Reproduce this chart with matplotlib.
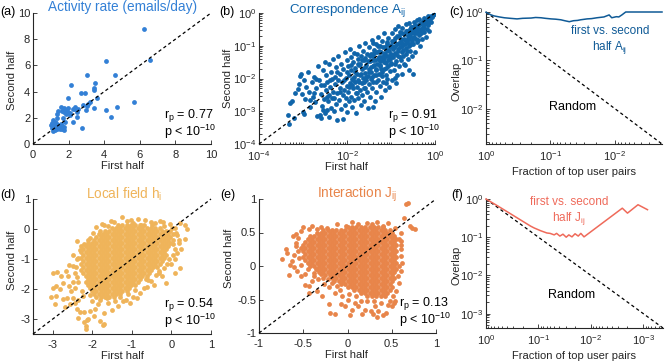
import numpy as np
import matplotlib

matplotlib.use("Agg")
import matplotlib.pyplot as plt
from matplotlib.ticker import LogLocator, NullFormatter

plt.rcParams["font.family"] = ["Liberation Sans", "DejaVu Sans"]
plt.rcParams["mathtext.default"] = "regular"
plt.rcParams["axes.unicode_minus"] = False

# ---- data ----
# (a) activity rate, emails/day
a_first = [6.22, 6.58, 4.11, 4.58, 3.03, 2.13, 3.48, 3.44, 3.40, 2.93, 2.69, 1.96, 3.61, 3.21, 5.65,
           3.09, 4.73, 3.40, 4.11, 4.36, 2.77, 2.52, 2.36, 2.24, 2.47, 2.45, 2.22, 2.80, 3.03, 3.00,
           1.94, 1.72, 1.55, 1.38, 1.35, 1.83, 1.94, 1.76, 1.65, 2.10, 2.06, 1.68, 1.78, 1.57, 1.46,
           1.12, 1.09, 1.16, 1.24, 1.31, 1.42, 1.03, 1.07, 1.18, 1.27, 1.35, 1.50, 1.61, 1.76, 1.24,
           1.10, 1.61, 1.72, 2.34, 1.87, 1.37]
a_second = [8.75, 6.45, 6.30, 5.23, 5.28, 4.49, 4.67, 4.31, 4.10, 3.93, 3.88, 3.50, 3.50, 3.24, 3.21,
            3.04, 2.81, 2.73, 2.58, 2.09, 1.22, 2.65, 2.68, 2.65, 2.45, 2.09, 1.71, 2.98, 2.93, 2.60,
            2.78, 2.78, 2.81, 2.53, 2.30, 2.60, 2.47, 2.42, 2.53, 2.37, 2.22, 1.96, 1.68, 1.56, 1.35,
            1.84, 1.58, 1.45, 1.66, 1.58, 1.48, 1.45, 1.22, 1.28, 1.33, 1.12, 1.12, 1.12, 1.10, 1.07,
            1.02, 1.38, 1.28, 2.86, 2.27, 1.96]

# (b) correspondence A_ij, stored as (log10 first half, log10 second half)
b_log_pairs = [
    (-3.32, -3.38), (-3.21, -3.20), (-3.34, -3.11), (-3.29, -2.76), (-3.25, -2.70), (-3.05, -1.86),
    (-3.07, -1.93), (-3.12, -2.33), (-3.18, -2.43), (-3.09, -2.16), (-3.00, -3.01), (-2.98, -3.07),
    (-2.95, -2.62), (-3.02, -2.48), (-2.93, -2.25), (-2.97, -2.05),
    (-2.89, -1.79), (-2.86, -2.40), (-2.84, -2.86), (-2.80, -2.12), (-2.78, -2.55), (-2.75, -1.95),
    (-2.72, -2.72), (-2.70, -2.30), (-2.68, -3.15), (-2.66, -1.62), (-2.64, -2.05), (-2.62, -3.10),
    (-2.60, -2.48), (-2.58, -3.22), (-2.57, -2.85), (-2.55, -1.75), (-2.53, -2.20), (-2.52, -2.62),
    (-2.51, -3.05), (-2.50, -1.50),
    (-2.48, -2.35), (-2.47, -1.90), (-2.46, -2.95), (-2.45, -2.10), (-2.44, -2.70), (-2.42, -1.55),
    (-2.41, -2.50), (-2.40, -3.18), (-2.38, -2.25), (-2.37, -1.80), (-2.36, -2.90), (-2.35, -2.02),
    (-2.33, -2.60), (-2.32, -1.40), (-2.31, -2.40), (-2.30, -3.00), (-2.28, -1.95), (-2.27, -2.18),
    (-2.26, -2.78), (-2.25, -1.65), (-2.23, -2.45), (-2.22, -3.28), (-2.21, -2.05), (-2.20, -1.30),
    (-2.18, -2.65), (-2.17, -2.30), (-2.16, -1.85), (-2.14, -2.92), (-2.13, -1.55), (-2.12, -2.12),
    (-2.10, -2.50), (-2.09, -3.25), (-2.08, -1.72), (-2.07, -2.35), (-2.05, -1.20), (-2.04, -2.80),
    (-2.03, -1.98), (-2.02, -2.60), (-2.01, -1.45), (-2.00, -2.22),
    (-1.99, -3.02), (-1.98, -1.62), (-1.97, -2.42), (-1.96, -1.88), (-1.95, -2.70), (-1.94, -1.10),
    (-1.93, -2.15), (-1.92, -1.35), (-1.91, -2.55), (-1.90, -1.75), (-1.89, -2.00), (-1.88, -2.88),
    (-1.87, -1.50), (-1.86, -2.30), (-1.85, -1.95), (-1.84, -2.65), (-1.83, -1.22), (-1.82, -2.10),
    (-1.81, -1.68), (-1.80, -2.45), (-1.79, -3.05), (-1.78, -1.85), (-1.77, -2.25), (-1.76, -1.40),
    (-1.75, -2.05), (-1.74, -2.60), (-1.73, -1.60), (-1.72, -1.00), (-1.71, -2.35), (-1.70, -1.90),
    (-1.69, -2.80), (-1.68, -1.30), (-1.67, -2.15), (-1.66, -1.72), (-1.65, -2.50), (-1.64, -1.15),
    (-1.63, -1.98), (-1.62, -2.70), (-1.61, -1.45), (-1.60, -2.28), (-1.59, -1.82), (-1.58, -0.92),
    (-1.57, -2.05), (-1.56, -1.58), (-1.55, -2.42), (-1.54, -1.25), (-1.53, -1.92), (-1.52, -2.90),
    (-1.51, -1.70), (-1.50, -2.18), (-1.70, -1.55), (-1.88, -2.20), (-1.62, -2.10), (-1.78, -1.25),
    (-1.58, -1.38),
    (-1.49, -1.05), (-1.48, -2.55), (-1.47, -1.48), (-1.46, -2.00), (-1.45, -1.80), (-1.44, -0.82),
    (-1.43, -2.30), (-1.42, -1.30), (-1.41, -1.62), (-1.40, -2.12), (-1.39, -1.12), (-1.38, -1.90),
    (-1.37, -2.70), (-1.36, -1.42), (-1.35, -0.95), (-1.34, -1.75), (-1.33, -2.40), (-1.32, -1.20),
    (-1.31, -1.55), (-1.30, -2.05), (-1.29, -0.72), (-1.28, -1.85), (-1.27, -1.35), (-1.26, -2.22),
    (-1.25, -1.00), (-1.24, -1.62), (-1.23, -2.55), (-1.22, -1.18), (-1.21, -1.92), (-1.20, -0.85),
    (-1.19, -1.45), (-1.18, -2.10), (-1.17, -1.28), (-1.16, -1.70), (-1.15, -0.62), (-1.14, -2.35),
    (-1.13, -1.05), (-1.12, -1.52), (-1.11, -1.88), (-1.10, -0.90), (-1.09, -1.30), (-1.08, -2.00),
    (-1.07, -1.62), (-1.06, -0.75), (-1.05, -1.15), (-1.04, -2.25), (-1.03, -1.40), (-1.02, -1.78),
    (-1.01, -0.98), (-1.00, -1.25), (-1.45, -1.25), (-1.38, -1.58), (-1.30, -1.02), (-1.22, -1.72),
    (-1.15, -1.38), (-1.08, -1.12), (-1.40, -0.92), (-1.25, -1.48), (-1.12, -2.15), (-1.35, -2.10),
    (-1.42, -2.88),
    (-0.99, -1.55), (-0.98, -0.62), (-0.97, -2.05), (-0.96, -1.10), (-0.95, -1.35), (-0.94, -0.85),
    (-0.93, -1.75), (-0.92, -0.48), (-0.91, -1.22), (-0.90, -1.02), (-0.89, -2.15), (-0.88, -1.48),
    (-0.87, -0.70), (-0.86, -1.90), (-0.85, -1.15), (-0.84, -0.40), (-0.83, -1.30), (-0.82, -0.92),
    (-0.81, -1.62), (-0.80, -0.58), (-0.79, -1.05), (-0.78, -1.42), (-0.77, -0.78), (-0.76, -1.85),
    (-0.75, -1.18), (-0.74, -0.45), (-0.73, -0.95), (-0.72, -1.30), (-0.71, -0.65), (-0.70, -1.55),
    (-0.69, -1.58), (-0.68, -0.82), (-0.67, -1.08), (-0.66, -0.35), (-0.65, -1.25), (-0.64, -0.55),
    (-0.63, -0.90), (-0.62, -1.40), (-0.61, -0.70), (-0.60, -1.02), (-0.59, -0.30), (-0.58, -0.80),
    (-0.57, -1.15), (-0.56, -0.50), (-0.55, -0.95), (-0.54, -0.62), (-0.53, -1.30), (-0.52, -0.42),
    (-0.51, -0.75), (-0.50, -1.85),
    (-0.49, -0.95), (-0.48, -0.28), (-0.47, -0.60), (-0.46, -1.18), (-0.45, -0.45), (-0.44, -0.78),
    (-0.42, -0.22), (-0.41, -0.55), (-0.40, -0.88), (-0.39, -0.38), (-0.37, -0.68), (-0.36, -0.18),
    (-0.35, -1.00), (-0.33, -0.48), (-0.32, -0.30), (-0.31, -0.62), (-0.30, -0.80), (-0.28, -0.25),
    (-0.27, -0.42), (-0.25, -0.58), (-0.24, -0.15), (-0.22, -0.35), (-0.21, -0.72), (-0.19, -0.20),
    (-0.18, -0.48), (-0.16, -0.10), (-0.15, -0.30), (-0.13, -0.55), (-0.12, -0.18), (-0.10, -0.08),
    (-0.08, -0.28), (-0.06, -0.12), (-0.04, -0.05), (-0.02, -0.02), (-0.60, -1.75), (-0.92, -1.98),
    # denser middle of the band
    (-2.45, -2.55), (-2.38, -2.05), (-2.30, -2.60), (-2.22, -1.80), (-2.15, -2.40), (-2.06, -2.05),
    (-2.00, -1.80), (-1.95, -2.25), (-1.90, -1.60), (-1.86, -2.05), (-1.82, -1.80), (-1.78, -2.45),
    (-1.75, -1.55), (-1.72, -2.10), (-1.68, -1.85), (-1.65, -1.42), (-1.62, -2.30), (-1.60, -1.65),
    (-1.56, -1.95), (-1.53, -1.48), (-1.50, -1.80), (-1.48, -1.30), (-1.46, -1.65), (-1.43, -1.95),
    (-1.40, -1.45), (-1.38, -1.22), (-1.35, -1.70), (-1.33, -1.90), (-1.30, -1.40), (-1.28, -1.15),
    (-1.26, -1.60), (-1.23, -1.35), (-1.20, -1.80), (-1.18, -1.05), (-1.16, -1.50), (-1.14, -1.22),
    (-1.11, -1.68), (-1.09, -0.95), (-1.07, -1.45), (-1.05, -1.30), (-1.03, -1.05), (-1.00, -1.52),
    (-0.98, -0.85), (-0.96, -1.28), (-0.94, -1.05), (-0.92, -1.55), (-0.90, -0.75), (-0.88, -1.25),
    (-0.86, -0.95), (-0.84, -1.10), (-0.82, -0.70), (-0.80, -1.35), (-0.78, -0.88), (-0.76, -1.02),
    (-0.74, -0.62), (-0.72, -1.12), (-0.70, -0.78), (-0.68, -0.95), (-0.66, -0.55), (-0.64, -1.15),
    (-0.62, -0.78), (-0.60, -0.62), (-0.58, -0.95), (-0.56, -0.70), (-0.54, -0.42), (-0.52, -0.85),
    (-0.50, -0.55), (-0.48, -0.72), (-0.46, -0.38), (-0.43, -0.62), (-0.40, -0.45), (-0.38, -0.82),
    (-0.35, -0.35), (-0.33, -0.60), (-0.30, -0.50), (-0.27, -0.32), (-0.24, -0.45), (-0.20, -0.28),
    (-0.17, -0.38), (-0.14, -0.22), (-2.60, -2.20), (-2.70, -2.00), (-2.75, -2.45), (-2.85, -2.65),
    (-2.55, -2.95),
]

# (c) overlap of top user pairs, A_ij
c_frac = [1.0, 0.85, 0.75, 0.62, 0.52, 0.42, 0.33, 0.27, 0.20, 0.17, 0.14, 0.12, 0.098, 0.083,
          0.069, 0.060, 0.051, 0.044, 0.038, 0.034, 0.027, 0.023, 0.019, 0.0148, 0.0123, 0.0112,
          0.0095, 0.0087, 0.0078, 0.0068, 0.00186]
c_overlap = [0.99, 0.88, 0.83, 0.79, 0.76, 0.74, 0.72, 0.74, 0.75, 0.77, 0.76, 0.74, 0.72, 0.71,
             0.69, 0.66, 0.63, 0.66, 0.67, 0.69, 0.72, 0.73, 0.76, 0.79, 0.87, 0.76,
             0.80, 0.79, 0.87, 1.0, 1.0]
c_random = [1.0, 0.00186]

# (d) local field h_i: packed core as rows (second-half value, first-half values) + scattered points
d_core = [
    (0.15, [-1.35, -1.24, -1.13, -1.02, -0.91, -0.80, -0.69]),
    (0.05, [-1.51, -1.40, -1.29, -1.18, -1.07, -0.96, -0.85, -0.74, -0.63, -0.52, -0.41, -0.30]),
    (-0.05, [-1.68, -1.57, -1.46, -1.35, -1.24, -1.13, -1.02, -0.91, -0.80, -0.69, -0.58, -0.47, -0.36,
             -0.25, -0.14, -0.03]),
    (-0.15, [-1.84, -1.73, -1.62, -1.51, -1.40, -1.29, -1.18, -1.07, -0.96, -0.85, -0.74, -0.63, -0.52,
             -0.41, -0.30, -0.19, -0.08, 0.03]),
    (-0.25, [-1.90, -1.79, -1.68, -1.57, -1.46, -1.35, -1.24, -1.13, -1.02, -0.91, -0.80, -0.69, -0.58,
             -0.47, -0.36, -0.25, -0.14, -0.03]),
    (-0.35, [-1.95, -1.84, -1.73, -1.62, -1.51, -1.40, -1.29, -1.18, -1.07, -0.96, -0.85, -0.74, -0.63,
             -0.52, -0.41, -0.30, -0.19, -0.08, 0.03]),
    (-0.45, [-2.12, -2.01, -1.90, -1.79, -1.68, -1.57, -1.46, -1.35, -1.24, -1.13, -1.02, -0.91, -0.80,
             -0.69, -0.58, -0.47, -0.36, -0.25, -0.14, -0.03]),
    (-0.55, [-2.17, -2.06, -1.95, -1.84, -1.73, -1.62, -1.51, -1.40, -1.29, -1.18, -1.07, -0.96, -0.85,
             -0.74, -0.63, -0.52, -0.41, -0.30, -0.19, -0.08]),
    (-0.65, [-2.23, -2.12, -2.01, -1.90, -1.79, -1.68, -1.57, -1.46, -1.35, -1.24, -1.13, -1.02, -0.91,
             -0.80, -0.69, -0.58, -0.47, -0.36, -0.25, -0.14]),
    (-0.75, [-2.28, -2.17, -2.06, -1.95, -1.84, -1.73, -1.62, -1.51, -1.40, -1.29, -1.18, -1.07, -0.96,
             -0.85, -0.74, -0.63, -0.52, -0.41, -0.30, -0.19]),
    (-0.85, [-2.23, -2.12, -2.01, -1.90, -1.79, -1.68, -1.57, -1.46, -1.35, -1.24, -1.13, -1.02, -0.91,
             -0.80, -0.69, -0.58, -0.47, -0.36, -0.25, -0.14]),
    (-0.95, [-2.28, -2.17, -2.06, -1.95, -1.84, -1.73, -1.62, -1.51, -1.40, -1.29, -1.18, -1.07, -0.96,
             -0.85, -0.74, -0.63, -0.52, -0.41, -0.30, -0.19]),
    (-1.05, [-2.23, -2.12, -2.01, -1.90, -1.79, -1.68, -1.57, -1.46, -1.35, -1.24, -1.13, -1.02, -0.91,
             -0.80, -0.69, -0.58, -0.47, -0.36, -0.25]),
    (-1.15, [-2.28, -2.17, -2.06, -1.95, -1.84, -1.73, -1.62, -1.51, -1.40, -1.29, -1.18, -1.07, -0.96,
             -0.85, -0.74, -0.63, -0.52, -0.41, -0.30]),
    (-1.25, [-2.23, -2.12, -2.01, -1.90, -1.79, -1.68, -1.57, -1.46, -1.35, -1.24, -1.13, -1.02, -0.91,
             -0.80, -0.69, -0.58, -0.47, -0.36]),
    (-1.35, [-2.28, -2.17, -2.06, -1.95, -1.84, -1.73, -1.62, -1.51, -1.40, -1.29, -1.18, -1.07, -0.96,
             -0.85, -0.74, -0.63, -0.52]),
    (-1.45, [-2.23, -2.12, -2.01, -1.90, -1.79, -1.68, -1.57, -1.46, -1.35, -1.24, -1.13, -1.02, -0.91,
             -0.80, -0.69, -0.58]),
    (-1.55, [-2.17, -2.06, -1.95, -1.84, -1.73, -1.62, -1.51, -1.40, -1.29, -1.18, -1.07, -0.96, -0.85,
             -0.74, -0.63]),
    (-1.65, [-2.12, -2.01, -1.90, -1.79, -1.68, -1.57, -1.46, -1.35, -1.24, -1.13, -1.02, -0.91, -0.80]),
    (-1.75, [-2.17, -2.06, -1.95, -1.84, -1.73, -1.62, -1.51, -1.40, -1.29, -1.18, -1.07, -0.96, -0.85]),
    (-1.85, [-2.12, -2.01, -1.90, -1.79, -1.68, -1.57, -1.46, -1.35, -1.24, -1.13, -1.02, -0.91]),
    (-1.95, [-2.06, -1.95, -1.84, -1.73, -1.62, -1.51, -1.40, -1.29, -1.18, -1.07]),
    (-2.05, [-2.01, -1.90, -1.79, -1.68, -1.57, -1.46, -1.35, -1.24, -1.13]),
    (-2.15, [-1.95, -1.84, -1.73, -1.62, -1.51, -1.40, -1.29]),
    (-2.25, [-1.90, -1.79, -1.68, -1.57, -1.46]),
]
d_scatter = [
    (-1.24, 0.39), (-1.54, 0.27), (-1.90, 0.08), (-0.97, 0.21), (-0.68, 0.30), (-0.30, 0.27),
    (-0.04, 0.16), (0.21, 0.21), (0.40, -0.01), (0.34, 0.12), (0.34, -0.34), (0.25, -0.68),
    (0.13, -0.79), (0.21, -1.29), (0.08, -1.46), (-0.13, -1.81), (-0.31, -1.46), (-0.51, -1.73),
    (-0.87, -2.29), (-1.05, -1.79), (-1.02, 0.30), (-0.52, 0.25), (-0.18, 0.10), (0.10, 0.05),
    (0.15, -0.20), (0.05, -0.50), (0.20, -0.45), (0.10, -1.00), (0.00, -1.15), (-0.20, -1.30),
    (-0.40, -1.52), (-0.65, -1.65), (-0.70, -1.95), (-0.92, -2.02), (-1.10, -2.15), (-1.22, -2.40),
    (-1.05, -2.47), (-2.40, -1.01), (-2.49, -1.23), (-2.66, -1.40), (-2.61, -1.57), (-2.91, -2.23),
    (-2.95, -2.51), (-2.83, -2.01), (-2.74, -1.79), (-2.91, -1.90), (-2.57, -2.51), (-2.40, -2.68),
    (-2.24, -2.23), (-2.07, -2.73), (-1.94, -2.68), (-1.71, -3.18), (-2.15, -3.32), (-1.97, -2.90),
    (-2.20, -2.75), (-2.00, -2.40), (-2.35, -1.75), (-2.45, -1.95), (-2.55, -2.05), (-2.35, -2.35),
    (-2.65, -2.30), (-2.70, -2.60), (-2.50, -2.30), (-1.85, -2.50), (-1.60, -2.45), (-1.50, -2.70),
    (-1.35, -2.55), (-1.70, -2.80), (-2.10, -3.00), (-2.20, -3.10), (-1.80, -3.05), (-2.30, -0.70),
    (-2.20, -0.50), (-2.05, -0.30), (-1.80, -0.05), (-2.50, -0.85), (-2.60, -1.20), (-2.80, -1.55),
    (-3.00, -1.45), (-2.90, -1.42), (-3.00, -1.96), (-3.05, -2.28), (-2.75, -2.34), (-2.36, -2.96),
    (-2.13, -3.03), (-2.16, -3.22), (-1.72, -3.20), (-2.31, -2.76), (-0.59, -1.70), (-0.31, -1.39),
    (-1.45, 0.22), (-1.70, 0.12), (-0.50, 0.12), (-2.38, -0.40), (-2.45, -1.45), (-1.30, -2.25),
    (-1.75, 0.18), (-1.60, 0.10), (-1.12, 0.28), (-0.85, 0.33), (-0.78, 0.15), (-0.42, 0.20),
    (-0.22, 0.24), (0.02, 0.05), (0.12, -0.12), (0.18, -0.35), (0.10, -0.65), (0.03, -0.85),
    (-0.05, -1.00), (-0.12, -1.18), (-0.25, -1.55), (-0.45, -1.85), (-0.62, -1.92), (-0.80, -2.12),
    (-0.98, -2.25), (-1.15, -2.35), (-1.42, -2.40), (-1.62, -2.30), (-1.80, -2.35), (-2.05, -2.20),
    (-2.25, -2.05), (-2.38, -1.60), (-2.42, -1.25), (-2.35, -0.95), (-2.28, -0.55), (-2.12, -0.35),
    (-1.98, -0.12), (-2.50, -1.75), (-2.60, -1.90), (-2.45, -2.45),
]

# (e) interaction J_ij: packed core rows + scattered points
e_core = [
    (0.58, [0.00, 0.05, 0.10, 0.15, 0.20, 0.25, 0.30, 0.35, 0.40]),
    (0.535, [-0.275, -0.225, -0.175, -0.125, -0.075, -0.025, 0.025, 0.075, 0.125, 0.175, 0.225, 0.275,
             0.325, 0.375, 0.425, 0.475]),
    (0.49, [-0.35, -0.30, -0.25, -0.20, -0.15, -0.10, -0.05, 0.00, 0.05, 0.10, 0.15, 0.20, 0.25, 0.30,
            0.35, 0.40, 0.45, 0.50]),
    (0.445, [-0.425, -0.375, -0.325, -0.275, -0.225, -0.175, -0.125, -0.075, -0.025, 0.025, 0.075, 0.125,
             0.175, 0.225, 0.275, 0.325, 0.375, 0.425, 0.475, 0.525]),
    (0.40, [-0.45, -0.40, -0.35, -0.30, -0.25, -0.20, -0.15, -0.10, -0.05, 0.00, 0.05, 0.10, 0.15, 0.20,
            0.25, 0.30, 0.35, 0.40, 0.45, 0.50, 0.55]),
    (0.355, [-0.475, -0.425, -0.375, -0.325, -0.275, -0.225, -0.175, -0.125, -0.075, -0.025, 0.025, 0.075,
             0.125, 0.175, 0.225, 0.275, 0.325, 0.375, 0.425, 0.475, 0.525]),
    (0.31, [-0.50, -0.45, -0.40, -0.35, -0.30, -0.25, -0.20, -0.15, -0.10, -0.05, 0.00, 0.05, 0.10, 0.15,
            0.20, 0.25, 0.30, 0.35, 0.40, 0.45, 0.50, 0.55]),
    (0.265, [-0.525, -0.475, -0.425, -0.375, -0.325, -0.275, -0.225, -0.175, -0.125, -0.075, -0.025, 0.025,
             0.075, 0.125, 0.175, 0.225, 0.275, 0.325, 0.375, 0.425, 0.475, 0.525]),
    (0.22, [-0.50, -0.45, -0.40, -0.35, -0.30, -0.25, -0.20, -0.15, -0.10, -0.05, 0.00, 0.05, 0.10, 0.15,
            0.20, 0.25, 0.30, 0.35, 0.40, 0.45, 0.50, 0.55]),
    (0.175, [-0.475, -0.425, -0.375, -0.325, -0.275, -0.225, -0.175, -0.125, -0.075, -0.025, 0.025, 0.075,
             0.125, 0.175, 0.225, 0.275, 0.325, 0.375, 0.425, 0.475, 0.525]),
    (0.13, [-0.50, -0.45, -0.40, -0.35, -0.30, -0.25, -0.20, -0.15, -0.10, -0.05, 0.00, 0.05, 0.10, 0.15,
            0.20, 0.25, 0.30, 0.35, 0.40, 0.45, 0.50, 0.55]),
    (0.085, [-0.475, -0.425, -0.375, -0.325, -0.275, -0.225, -0.175, -0.125, -0.075, -0.025, 0.025, 0.075,
             0.125, 0.175, 0.225, 0.275, 0.325, 0.375, 0.425, 0.475, 0.525]),
    (0.04, [-0.45, -0.40, -0.35, -0.30, -0.25, -0.20, -0.15, -0.10, -0.05, 0.00, 0.05, 0.10, 0.15, 0.20,
            0.25, 0.30, 0.35, 0.40, 0.45, 0.50, 0.55]),
    (-0.005, [-0.425, -0.375, -0.325, -0.275, -0.225, -0.175, -0.125, -0.075, -0.025, 0.025, 0.075, 0.125,
              0.175, 0.225, 0.275, 0.325, 0.375, 0.425, 0.475, 0.525]),
    (-0.05, [-0.35, -0.30, -0.25, -0.20, -0.15, -0.10, -0.05, 0.00, 0.05, 0.10, 0.15, 0.20, 0.25, 0.30,
             0.35, 0.40, 0.45, 0.50, 0.55]),
    (-0.095, [-0.325, -0.275, -0.225, -0.175, -0.125, -0.075, -0.025, 0.025, 0.075, 0.125, 0.175, 0.225,
              0.275, 0.325, 0.375, 0.425, 0.475, 0.525]),
    (-0.14, [-0.25, -0.20, -0.15, -0.10, -0.05, 0.00, 0.05, 0.10, 0.15, 0.20, 0.25, 0.30, 0.35, 0.40,
             0.45, 0.50]),
    (-0.185, [-0.175, -0.125, -0.075, -0.025, 0.025, 0.075, 0.125, 0.175, 0.225, 0.275, 0.325, 0.375,
              0.425, 0.475, 0.525]),
    (-0.23, [-0.15, -0.10, -0.05, 0.00, 0.05, 0.10, 0.15, 0.20, 0.25, 0.30, 0.35, 0.40, 0.45, 0.50]),
    (-0.275, [-0.075, -0.025, 0.025, 0.075, 0.125, 0.175, 0.225, 0.275, 0.325, 0.375, 0.425, 0.475]),
    (-0.32, [0.00, 0.05, 0.10, 0.15, 0.20, 0.25, 0.30, 0.35, 0.40, 0.45, 0.50]),
    (-0.365, [0.075, 0.125, 0.175, 0.225, 0.275, 0.325, 0.375, 0.425, 0.475]),
    (-0.41, [0.15, 0.20, 0.25, 0.30, 0.35, 0.40, 0.45]),
    (-0.455, [0.225, 0.275, 0.325, 0.375, 0.425]),
]
e_scatter = [
    (0.68, 0.94), (0.66, 0.93), (0.64, 0.72), (0.71, 0.60), (0.76, 0.55), (0.73, 0.57),
    (-0.74, 0.11), (-0.66, -0.13), (-0.63, 0.07), (-0.65, 0.02), (-0.61, 0.17), (-0.52, 0.52),
    (-0.43, 0.55), (-0.35, 0.55), (-0.23, 0.57), (-0.12, 0.62), (0.33, 0.66), (0.12, 0.62),
    (0.46, 0.64), (0.54, 0.57), (0.22, 0.64), (-0.02, 0.60), (-0.55, 0.12), (-0.57, -0.07),
    (-0.53, -0.15), (-0.48, -0.12), (-0.44, -0.30), (-0.48, -0.29), (-0.40, -0.22), (-0.33, -0.20),
    (-0.44, -0.40), (-0.34, -0.37), (-0.29, -0.45), (-0.21, -0.57), (-0.14, -0.71), (-0.20, -0.70),
    (-0.07, -0.56), (-0.03, -0.60), (0.05, -0.65), (0.12, -0.60), (0.16, -0.71), (0.20, -0.65),
    (0.26, -0.67), (0.29, -0.72), (0.35, -0.67), (0.43, -0.70), (0.50, -0.60), (0.51, -0.45),
    (0.54, -0.52), (0.31, -0.60), (0.09, -0.55), (-0.06, -0.45), (-0.14, -0.40), (-0.21, -0.32),
    (-0.27, -0.27), (0.03, -0.73), (0.33, -0.76), (0.40, -0.73), (0.22, -0.52), (0.38, -0.55),
    (0.60, 0.25), (0.61, 0.15), (0.58, 0.00), (0.57, -0.15), (0.58, 0.40), (0.60, 0.32),
    (-0.68, 0.20), (-0.58, 0.30), (-0.56, 0.42), (-0.60, -0.02), (-0.36, -0.05), (-0.30, -0.12),
    (-0.22, -0.20), (-0.12, -0.30), (-0.38, -0.10), (0.02, -0.42), (0.10, -0.45), (0.48, -0.52),
    (-0.58, 0.48), (-0.50, 0.58), (-0.40, 0.60), (-0.30, 0.58), (0.05, 0.65), (0.28, 0.62),
    (0.40, 0.60), (0.60, 0.50), (0.61, 0.38), (0.62, 0.05), (0.60, -0.08), (0.58, -0.25),
    (0.55, -0.38), (0.52, -0.55), (0.46, -0.58), (0.30, -0.52), (0.15, -0.52), (0.00, -0.50),
    (-0.08, -0.36), (-0.18, -0.26), (-0.28, -0.18), (-0.38, -0.15), (-0.45, -0.05), (-0.52, 0.02),
    (-0.56, 0.22), (-0.58, 0.35), (-0.62, 0.45), (-0.70, 0.25),
]

# (f) overlap of top user pairs, J_ij
f_frac = [1.0, 0.60, 0.35, 0.141, 0.120, 0.091, 0.069, 0.060, 0.050, 0.045, 0.039, 0.034, 0.0295,
          0.0263, 0.0229, 0.0200, 0.0174, 0.0155, 0.0135, 0.00251, 0.00200, 0.00126, 0.00083]
f_overlap = [1.0, 0.66, 0.42, 0.195, 0.174, 0.148, 0.129, 0.126, 0.115, 0.126, 0.107, 0.120, 0.100,
             0.115, 0.102, 0.123, 0.107, 0.126, 0.102, 0.575, 0.427, 0.708, 0.525]
f_random = [1.0, 0.00042]

stats = {"a": "0.77", "b": "0.91", "d": "0.54", "e": "0.13"}

# ---- colours ----
COL_A = "#3380d6"
COL_B = "#1065aa"
COL_C = "#0f5a96"
COL_D = "#efb45a"
COL_E = "#e8854a"
COL_F = "#ef6a5a"
INK = "#262626"

W, H = 665, 363
fig = plt.figure(figsize=(W / 100, H / 100), dpi=100)


def rect(left, top, right, bottom):
    return [left / W, 1 - bottom / H, (right - left) / W, (bottom - top) / H]


def ftext(x, y, s, **kw):
    kw.setdefault("ha", "center")
    kw.setdefault("va", "center")
    fig.text(x / W, 1 - y / H, s, **kw)


def style(ax):
    for side in ("top", "right"):
        ax.spines[side].set_visible(False)
    for side in ("left", "bottom"):
        ax.spines[side].set_color(INK)
        ax.spines[side].set_linewidth(0.8)
    ax.tick_params(which="both", direction="in", colors=INK, labelsize=8, width=0.6)
    ax.tick_params(which="major", length=3)
    ax.tick_params(which="minor", length=1.8)
    ax.tick_params(axis="x", pad=4)
    ax.tick_params(axis="y", pad=2)
    ax.patch.set_alpha(0)


def log_minor(axis):
    axis.set_minor_locator(LogLocator(base=10, subs=np.arange(1, 10), numticks=30))
    axis.set_minor_formatter(NullFormatter())


def diag(ax, lo, hi):
    ax.plot([lo, hi], [lo, hi], color="black", lw=0.9, ls=(0, (2.6, 2.2)), zorder=5, clip_on=False)


def stat_text(ax, key, x):
    ax.text(x, 0.22, "r$_p$ = " + stats[key], transform=ax.transAxes, fontsize=9, color="black",
            ha="left", va="center")
    ax.text(x, 0.095, "p < 10$^{-10}$", transform=ax.transAxes, fontsize=9, color="black",
            ha="left", va="center")


def rows_to_xy(core, scatter):
    xs = [x for y, row in core for x in row] + [p[0] for p in scatter]
    ys = [y for y, row in core for x in row] + [p[1] for p in scatter]
    return xs, ys


SC = dict(s=12, linewidths=0, zorder=3)

# (a)
ax = fig.add_axes(rect(33, 13, 211, 144))
style(ax)
ax.scatter(a_first, a_second, color=COL_A, **SC)
diag(ax, 0, 10)
ax.set_xlim(0, 10)
ax.set_ylim(0, 10)
ax.set_xticks([0, 2, 4, 6, 8, 10])
ax.set_yticks([0, 2, 4, 6, 8, 10])
stat_text(ax, "a", 0.735)

# (b)
ax = fig.add_axes(rect(259, 13, 435, 144))
style(ax)
b_pts = np.array(b_log_pairs)
ax.scatter(10 ** b_pts[:, 0], 10 ** b_pts[:, 1], color=COL_B, **SC)
ax.set_xscale("log")
ax.set_yscale("log")
diag(ax, 1e-4, 1)
ax.set_xlim(1e-4, 1)
ax.set_ylim(1e-4, 1)
ax.set_xticks([1e-4, 1e-2, 1])
ax.set_yticks([1e-4, 1e-3, 1e-2, 1e-1, 1])
log_minor(ax.xaxis)
log_minor(ax.yaxis)
stat_text(ax, "b", 0.733)

# (c)
ax = fig.add_axes(rect(486, 12, 662, 144))
style(ax)
ax.plot(c_random, c_random, color="black", lw=0.9, ls=(0, (2.6, 2.2)), clip_on=False)
ax.plot(c_frac, c_overlap, color=COL_C, lw=1.1, clip_on=False, zorder=4)
ax.set_xscale("log")
ax.set_yscale("log")
ax.set_xlim(1, c_random[-1])
ax.set_ylim(c_random[-1], 1)
ax.set_xticks([1, 1e-1, 1e-2])
ax.set_yticks([1e-2, 1e-1, 1])
log_minor(ax.xaxis)
log_minor(ax.yaxis)
ax.text(0.49, 0.28, "Random", transform=ax.transAxes, fontsize=9, ha="center", va="center")
ax.text(0.705, 0.785, "first vs. second\nhalf A$_{ij}$", transform=ax.transAxes, fontsize=8.5,
        color=COL_C, ha="center", va="center", linespacing=1.15)

# (d)
ax = fig.add_axes(rect(33, 199, 211, 334))
style(ax)
dx, dy = rows_to_xy(d_core, d_scatter)
ax.scatter(dx, dy, color=COL_D, **SC)
diag(ax, -3.5, 1)
ax.set_xlim(-3.5, 1)
ax.set_ylim(-3.5, 1)
ax.set_xticks([-3, -2, -1, 0, 1])
ax.set_yticks([-3, -2, -1, 0, 1])
stat_text(ax, "d", 0.735)

# (e)
ax = fig.add_axes(rect(259, 199, 436, 333))
style(ax)
ex, ey = rows_to_xy(e_core, e_scatter)
ax.scatter(ex, ey, color=COL_E, **SC)
diag(ax, -1, 1)
ax.set_xlim(-1, 1)
ax.set_ylim(-1, 1)
ax.set_xticks([-1, -0.5, 0, 0.5, 1])
ax.set_xticklabels(["-1", "-0.5", "0", "0.5", "1"])
ax.set_yticks([-1, -0.5, 0, 0.5, 1])
ax.set_yticklabels(["-1", "-0.5", "0", "0.5", "1"])
stat_text(ax, "e", 0.79)

# (f)
ax = fig.add_axes(rect(486, 199, 663, 328))
style(ax)
ax.plot(f_random, f_random, color="black", lw=0.9, ls=(0, (2.6, 2.2)), clip_on=False)
ax.plot(f_frac, f_overlap, color=COL_F, lw=1.1, clip_on=False, zorder=4)
ax.set_xscale("log")
ax.set_yscale("log")
ax.set_xlim(1, f_random[-1])
ax.set_ylim(f_random[-1], 1)
ax.set_xticks([1, 1e-1, 1e-2, 1e-3])
ax.set_yticks([1e-3, 1e-2, 1e-1, 1])
log_minor(ax.xaxis)
log_minor(ax.yaxis)
ax.text(0.486, 0.256, "Random", transform=ax.transAxes, fontsize=9, ha="center", va="center")
ax.text(0.469, 0.905, "first vs. second\nhalf J$_{ij}$", transform=ax.transAxes, fontsize=8.5,
        color=COL_F, ha="center", va="center", linespacing=1.15)

# titles, panel letters and axis labels
ftext(123, 11.5, "Activity rate (emails/day)", fontsize=9.8, color=COL_A, va="baseline")
ftext(348, 12.5, "Correspondence A$_{ij}$", fontsize=9.6, color=COL_B, va="baseline")
ftext(124, 194, "Local field h$_i$", fontsize=9.8, color=COL_D)
ftext(357, 194, "Interaction J$_{ij}$", fontsize=9.8, color=COL_E)

for x, y, s in [(8, 12, "(a)"), (227, 12, "(b)"), (457, 12, "(c)"),
                (8, 195, "(d)"), (228, 195, "(e)"), (457, 195, "(f)")]:
    ftext(x, y, s, fontsize=9)

for x, y in [(122, 166), (346, 167), (122, 356), (346, 355)]:
    ftext(x, y, "First half", fontsize=8, color=INK)
for x, y in [(574, 172), (574, 356)]:
    ftext(x, y, "Fraction of top user pairs", fontsize=8, color=INK)
for x, y in [(12, 80), (228, 78), (12, 260), (229, 258)]:
    ftext(x, y, "Second half", fontsize=8, color=INK, rotation=90)
for x, y in [(457, 81), (457, 265)]:
    ftext(x, y, "Overlap", fontsize=8, color=INK, rotation=90)

fig.savefig("out.png", dpi=100)
